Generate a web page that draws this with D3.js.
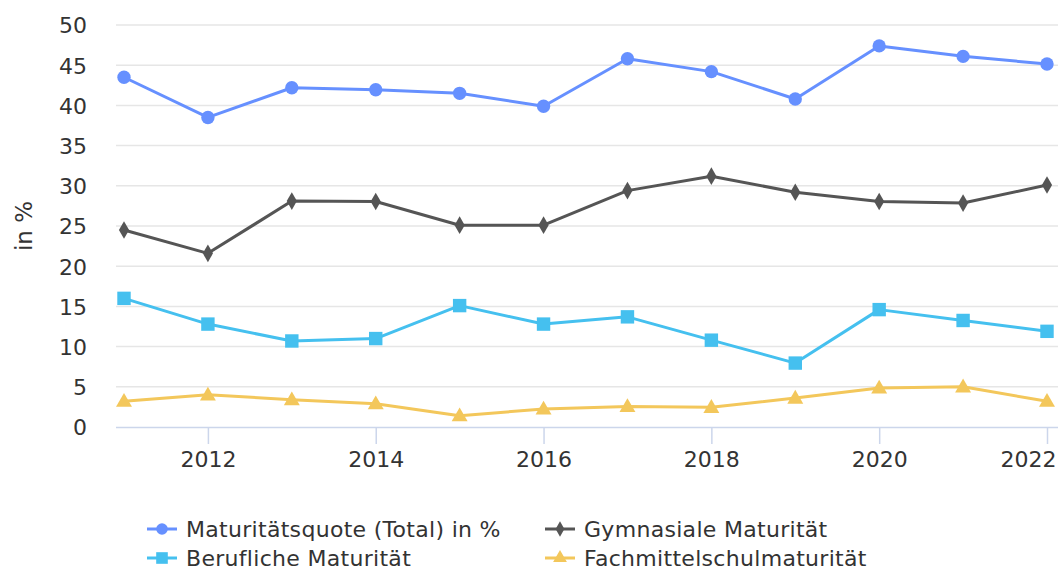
<!DOCTYPE html>
<html>
<head>
<meta charset="utf-8">
<script src="https://cdn.jsdelivr.net/npm/d3@7"></script>
<style>
  html, body { margin: 0; padding: 0; background: #fff; }
  svg { display: block; font-family: "DejaVu Sans", "Noto Sans", sans-serif; }
</style>
</head>
<body>
<svg id="chart" width="1058" height="571"></svg>
<script>
// Years on the x axis
const years = [2011, 2012, 2013, 2014, 2015, 2016, 2017, 2018, 2019, 2020, 2021, 2022];

// Series values (in %)
const totalQuote   = [43.5, 38.5, 42.2, 41.95, 41.5, 39.9, 45.8, 44.2, 40.8, 47.4, 46.1, 45.15];
const gymnasiale   = [24.5, 21.6, 28.1, 28.05, 25.1, 25.1, 29.4, 31.2, 29.2, 28.05, 27.85, 30.1];
const berufliche   = [16.0, 12.8, 10.7, 11.0, 15.1, 12.8, 13.7, 10.8, 7.95, 14.6, 13.25, 11.9];
const fachmittel   = [3.2, 4.0, 3.4, 2.9, 1.4, 2.25, 2.55, 2.45, 3.6, 4.85, 5.0, 3.2];

// Axis ticks
const yTicks = [0, 5, 10, 15, 20, 25, 30, 35, 40, 45, 50];
const xTicks = [2012, 2014, 2016, 2018, 2020, 2022];

const seriesNames = ["Maturitätsquote (Total) in %", "Gymnasiale Maturität", "Berufliche Maturität", "Fachmittelschulmaturität"];

const series = [
  { name: seriesNames[0], values: totalQuote, color: "#6690ff", symbol: d3.symbolCircle, size: 140 },
  { name: seriesNames[1], values: gymnasiale, color: "#555555", symbol: d3.symbolDiamond, size: 90 },
  { name: seriesNames[2], values: berufliche, color: "#45c0ef", symbol: d3.symbolSquare, size: 180 },
  { name: seriesNames[3], values: fachmittel, color: "#f3c75b", symbol: d3.symbolTriangle, size: 110 }
];

const svg = d3.select("#chart");
const plot = { left: 116, right: 1058, top: 25, bottom: 427 };

const x = d3.scaleLinear().domain([2011, 2022]).range([124, 1047]);
const y = d3.scaleLinear().domain([0, 50]).range([plot.bottom, plot.top]);

// Horizontal grid lines
svg.append("g")
  .selectAll("line")
  .data(yTicks.filter(t => t !== 0))
  .join("line")
  .attr("x1", plot.left).attr("x2", plot.right)
  .attr("y1", d => y(d)).attr("y2", d => y(d))
  .attr("stroke", "#e6e6e6").attr("stroke-width", 1.5);

// Y axis labels
const yAxis = d3.axisLeft(y).tickValues(yTicks).tickSize(0).tickPadding(0);
svg.append("g")
  .attr("transform", `translate(87,0)`)
  .call(yAxis)
  .call(g => g.select(".domain").remove())
  .call(g => g.selectAll("text")
    .attr("font-size", 22).attr("fill", "#333").attr("dy", "0.36em")
    .style("font-family", "'DejaVu Sans', sans-serif"));

// Y axis title
svg.append("text")
  .attr("transform", `translate(32,${y(25)}) rotate(-90)`)
  .attr("text-anchor", "middle")
  .attr("font-size", 23).attr("fill", "#333")
  .text("in %");

// X axis
const xAxis = d3.axisBottom(x).tickValues(xTicks).tickFormat(d3.format("d")).tickSize(17).tickPadding(0);
svg.append("g")
  .attr("transform", `translate(0,${plot.bottom})`)
  .call(xAxis)
  .call(g => g.select(".domain").attr("d", `M${plot.left},0.5H${plot.right}`).attr("stroke", "#ccd6eb").attr("stroke-width", 1.5))
  .call(g => g.selectAll(".tick line").attr("stroke", "#ccd6eb").attr("stroke-width", 1.5))
  .call(g => g.selectAll("text")
    .attr("y", 40).attr("dy", 0)
    .attr("font-size", 22).attr("fill", "#333")
    .style("font-family", "'DejaVu Sans', sans-serif"))
  // keep the last label inside the chart edge
  .call(g => g.selectAll(".tick").filter(d => d === 2022).select("text")
    .attr("text-anchor", "end").attr("x", 1056 - x(2022)));

// Lines and markers
const line = d3.line().x((d, i) => x(years[i])).y(d => y(d));
const sg = svg.append("g");
series.forEach(s => {
  sg.append("path")
    .datum(s.values)
    .attr("d", line)
    .attr("fill", "none")
    .attr("stroke", s.color)
    .attr("stroke-width", 3)
    .attr("stroke-linejoin", "round");
  sg.append("g")
    .selectAll("path")
    .data(s.values)
    .join("path")
    .attr("transform", (d, i) => `translate(${x(years[i])},${y(d) + (s.symbol === d3.symbolTriangle ? 1 : 0)})`)
    .attr("d", d3.symbol(s.symbol, s.size))
    .attr("fill", s.color);
});

// Legend
const legendPos = [[147, 529], [545, 529], [147, 558], [545, 558]];
const legend = svg.append("g");
series.forEach((s, i) => {
  const [lx, ly] = legendPos[i];
  const g = legend.append("g").attr("transform", `translate(${lx},${ly})`);
  g.append("line").attr("x1", 0).attr("x2", 30).attr("y1", 0).attr("y2", 0)
    .attr("stroke", s.color).attr("stroke-width", 3);
  g.append("path").attr("transform", "translate(15,0)")
    .attr("d", d3.symbol(s.symbol, s.size * 0.75)).attr("fill", s.color);
  g.append("text").attr("x", 39).attr("y", 0).attr("dy", "0.36em")
    .attr("font-size", 22).attr("letter-spacing", 0.3).attr("fill", "#333")
    .text(s.name);
});
</script>
</body>
</html>
